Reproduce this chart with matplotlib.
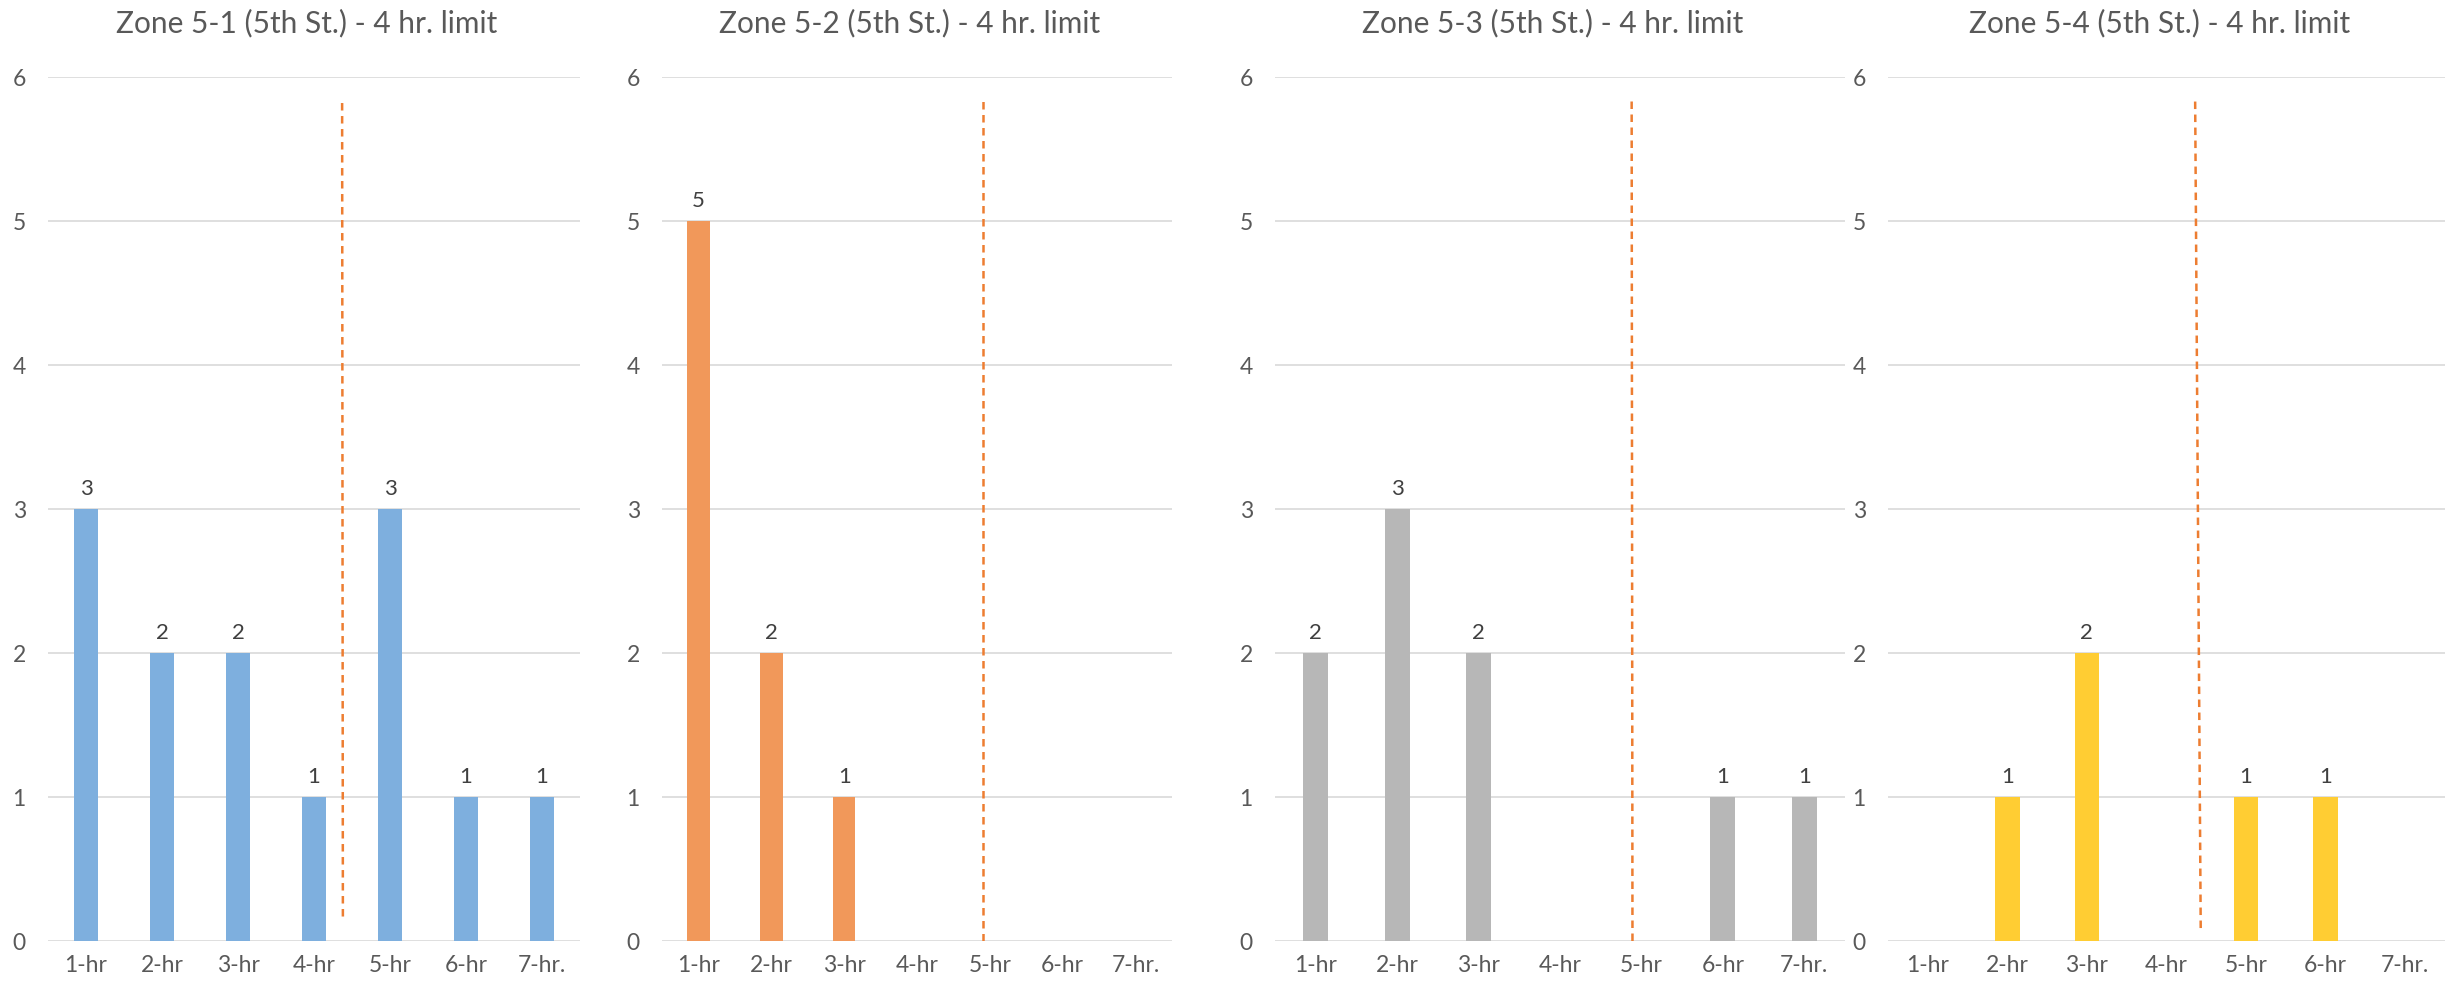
import numpy as np
import matplotlib
matplotlib.use("Agg")
import matplotlib.pyplot as plt

plt.rcParams["font.family"] = ["Lato", "DejaVu Sans"]

# Datos de cada zona
categories = ["1-hr", "2-hr", "3-hr", "4-hr", "5-hr", "6-hr", "7-hr."]
titles = [
    "Zone 5-1 (5th St.) - 4 hr. limit",
    "Zone 5-2 (5th St.) - 4 hr. limit",
    "Zone 5-3 (5th St.) - 4 hr. limit",
    "Zone 5-4 (5th St.) - 4 hr. limit",
]
zone_5_1 = [3, 2, 2, 1, 3, 1, 1]
zone_5_2 = [5, 2, 1, 0, 0, 0, 0]
zone_5_3 = [2, 3, 2, 0, 0, 1, 1]
zone_5_4 = [0, 1, 2, 0, 1, 1, 0]

# Linea de limite (posicion en categorias, extremos)
limit_x_top = [3.37, 3.90, 3.88, 3.36]
limit_x_bottom = [3.38, 3.90, 3.89, 3.43]
limit_top = [5.84, 5.84, 5.84, 5.84]
limit_bottom = [0.17, 0.0, 0.0, 0.09]

series = [zone_5_1, zone_5_2, zone_5_3, zone_5_4]
colors = ["#7EAFDE", "#F1985A", "#B7B7B7", "#FFCD33"]

W, H = 2446, 984
# extremos horizontales de cada area de grafico en pixeles
panels = [(48, 580), (662, 1172), (1275, 1845), (1888, 2445)]
y_top, y_bottom = 77, 941

fig = plt.figure(figsize=(W / 100, H / 100), dpi=100)

for i, (x0, x1) in enumerate(panels):
    ax = fig.add_axes(
        [x0 / W, 1 - y_bottom / H, (x1 - x0) / W, (y_bottom - y_top) / H]
    )
    x = np.arange(len(categories))
    vals = series[i]
    ax.bar(x, vals, 0.31, color=colors[i], zorder=3)
    for xi, v in zip(x, vals):
        if v > 0:
            ax.annotate(
                str(v),
                (xi, v),
                xytext=(0, 7),
                textcoords="offset points",
                ha="center",
                va="bottom",
                fontsize=16,
                color="#404040",
            )

    ax.plot(
        [limit_x_bottom[i], limit_x_top[i]],
        [limit_bottom[i], limit_top[i]],
        color="#ED7D31",
        lw=1.8,
        dashes=(3, 2.2),
        zorder=4,
    )

    ax.set_xlim(-0.5, len(categories) - 0.5)
    ax.set_ylim(0, 6)
    ax.set_yticks(range(0, 7))
    ax.set_xticks(x)
    ax.set_xticklabels(categories)
    ax.tick_params(axis="both", length=0, labelsize=16.5, labelcolor="#595959")
    ax.tick_params(axis="x", pad=10)
    ax.tick_params(axis="y", pad=16)
    ax.grid(axis="y", color="#D9D9D9", lw=1.2, zorder=0)
    for s in ax.spines.values():
        s.set_visible(False)

    fig.text(
        (x0 + x1) / 2 / W - 0.003,
        1 - 23 / H,
        titles[i],
        ha="center",
        va="center",
        fontsize=21.5,
        color="#595959",
    )

plt.savefig("out.png", dpi=100)
